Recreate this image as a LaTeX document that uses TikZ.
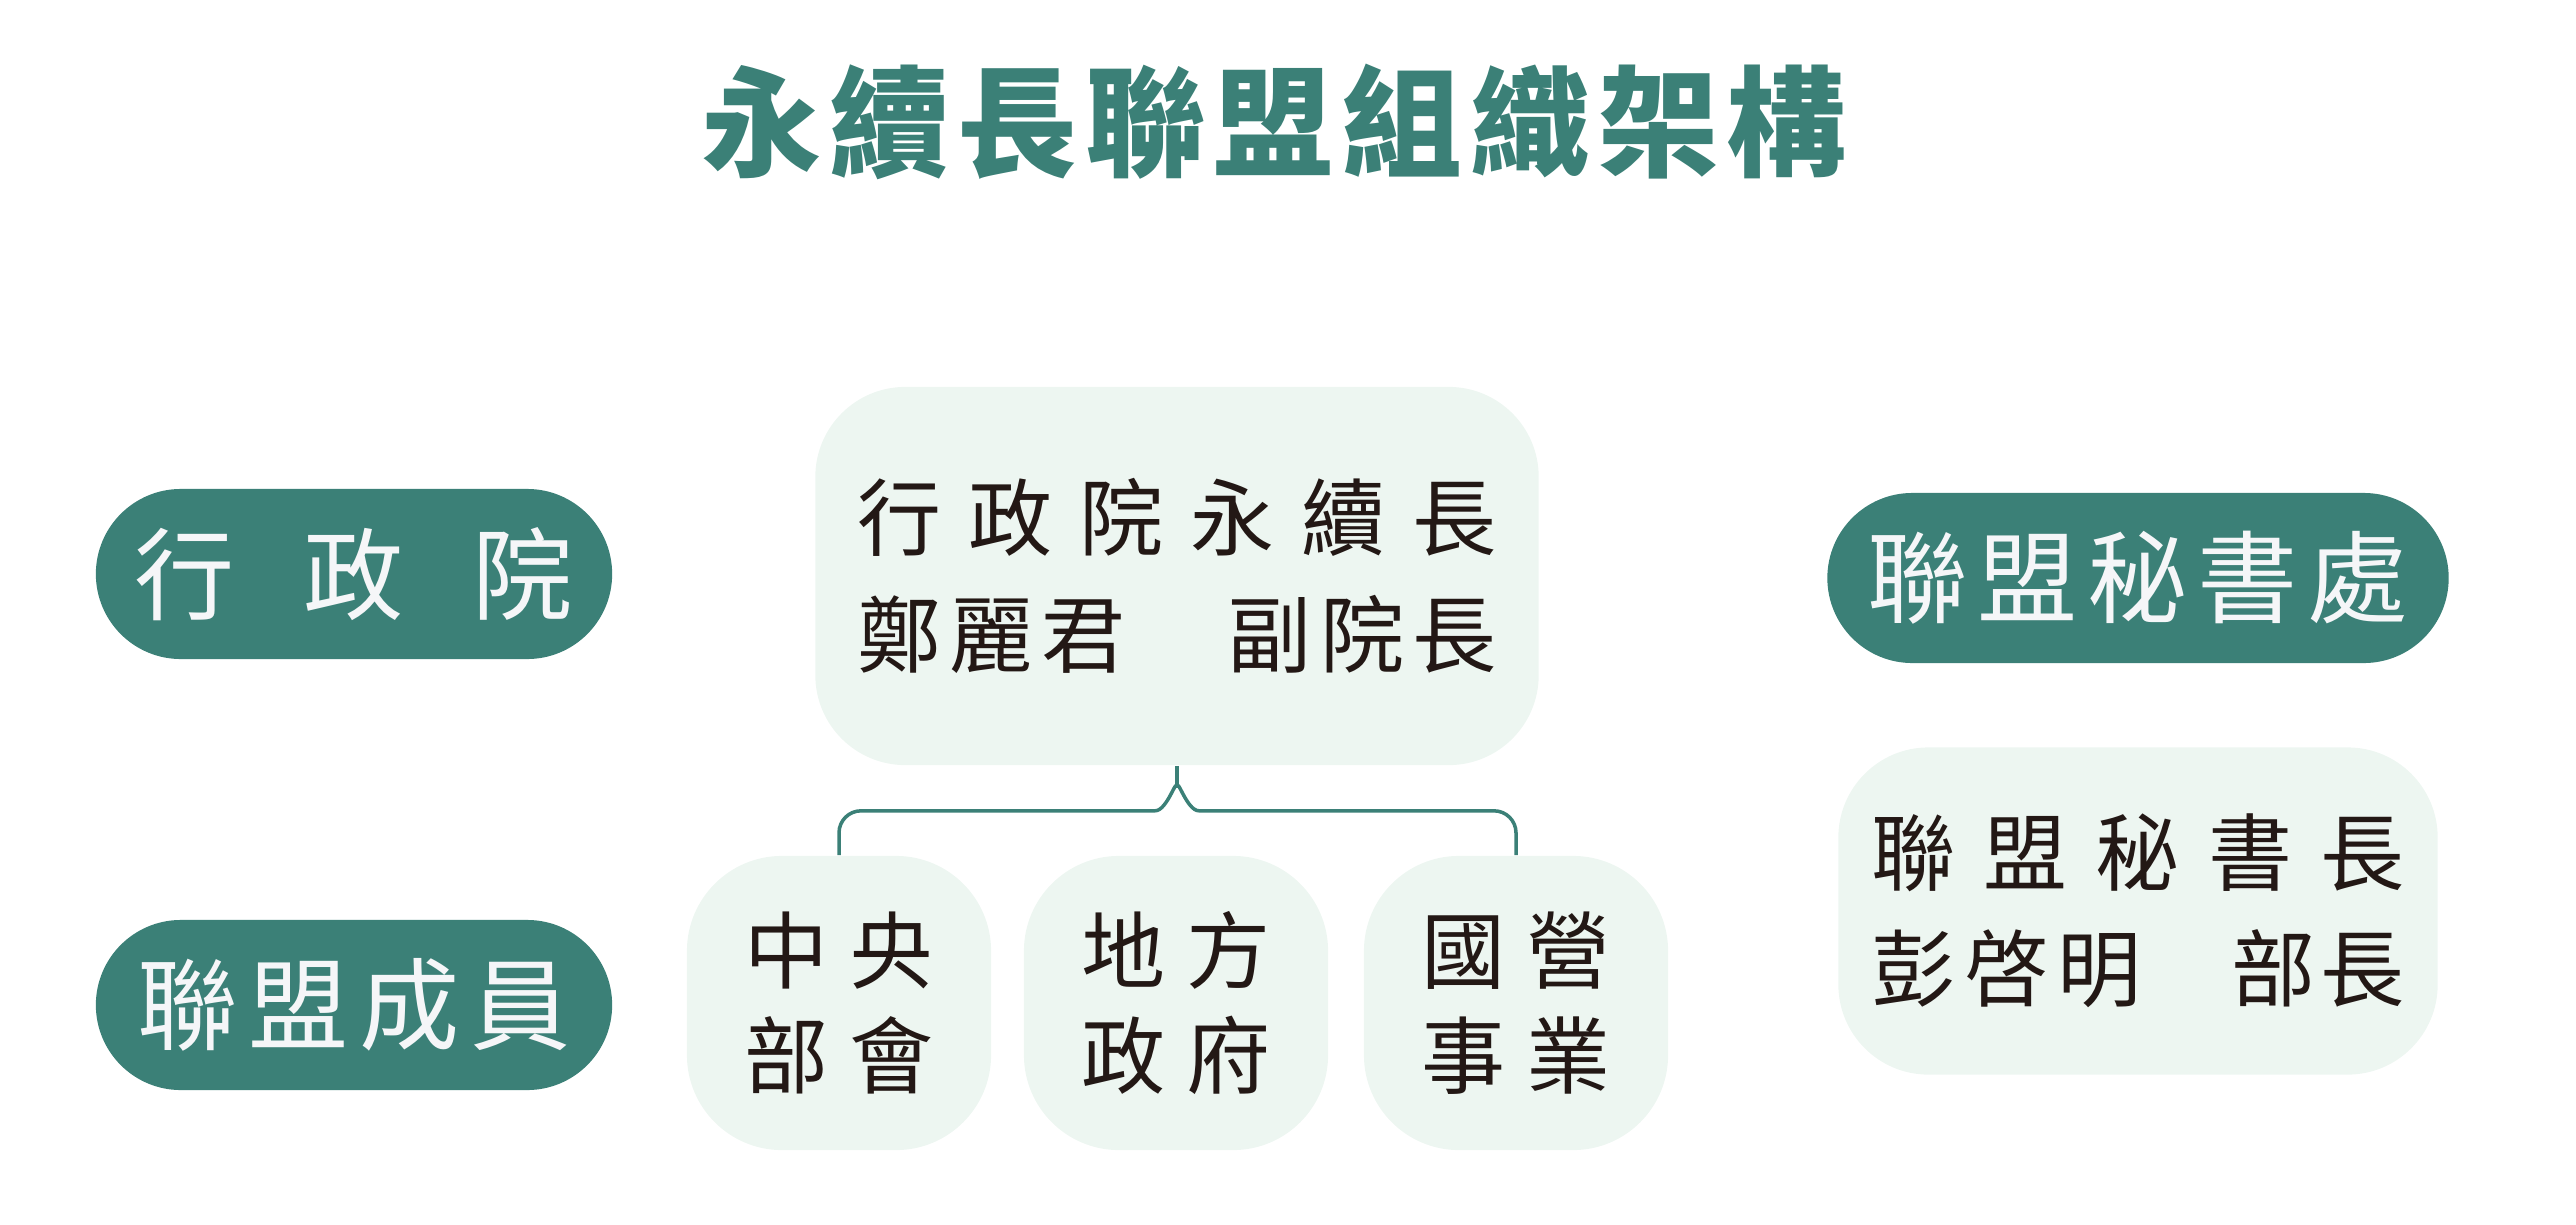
\documentclass[tikz,border=0pt]{standalone}
\usepackage{fontspec}
\newfontfamily\cjk{Noto Sans CJK TC}
\definecolor{unionteal}{HTML}{3B8077}
\definecolor{unionmint}{HTML}{EDF6F1}
\definecolor{inkblack}{HTML}{231815}
\definecolor{paper}{HTML}{F5F6F8}

\begin{document}
\begin{tikzpicture}
[
	x=0.01cm, y=-0.01cm,
	pill/.style={rectangle,rounded corners=0.85cm,fill=unionteal,text=paper,minimum height=1.7cm,inner sep=0,font=\cjk\fontsize{28.5pt}{34pt}\selectfont},
	card/.style={rectangle,rounded corners=0.9cm,fill=unionmint,text=inkblack,inner sep=0,align=center,font=\cjk\fontsize{23.9pt}{33.1pt}\selectfont},
	unitbox/.style={card,rounded corners=0.95cm,minimum width=3.04cm,minimum height=2.94cm,font=\cjk\fontsize{23.9pt}{29.9pt}\selectfont},
	link/.style={draw=unionteal,line width=1pt}
]

\useasboundingbox (0,0) rectangle (2576,1224);

\node[text=unionteal,font=\cjk\bfseries\fontsize{34.1pt}{40pt}\selectfont] (title) at (1274,122) {\makebox[11.44cm][s]{永\hfill 續\hfill 長\hfill 聯\hfill 盟\hfill 組\hfill 織\hfill 架\hfill 構}};

\node[pill,minimum width=5.16cm] (gov) at (354,574) {\makebox[4.38cm][s]{行\hfill 政\hfill 院}};
\node[pill,minimum width=5.16cm] (member) at (354,1005) {\makebox[4.33cm][s]{聯\hfill 盟\hfill 成\hfill 員}};
\node[pill,minimum width=6.21cm] (office) at (2138,578) {\makebox[5.40cm][s]{聯\hfill 盟\hfill 秘\hfill 書\hfill 處}};

\node[card,minimum width=7.23cm,minimum height=3.78cm] (core) at (1177,576) {\makebox[6.38cm][s]{行\hfill 政\hfill 院\hfill 永\hfill 續\hfill 長}\\\makebox[6.38cm][s]{鄭\kern0.08cm 麗\kern0.08cm 君\hfill 副\kern0.08cm 院\kern0.08cm 長}};
\node[card,minimum width=5.99cm,minimum height=3.27cm] (head) at (2138,911) {\makebox[5.32cm][s]{聯\hfill 盟\hfill 秘\hfill 書\hfill 長}\\\makebox[5.32cm][s]{彭\kern0.09cm 啓\kern0.09cm 明\hfill 部\kern0.05cm 長}};

\node[unitbox] (central) at (839,1003) {\makebox[1.89cm][s]{中\hfill 央}\\\makebox[1.89cm][s]{部\hfill 會}};
\node[unitbox] (local) at (1176,1003) {\makebox[1.89cm][s]{地\hfill 方}\\\makebox[1.89cm][s]{政\hfill 府}};
\node[unitbox] (public) at (1516,1003) {\makebox[1.89cm][s]{國\hfill 營}\\\makebox[1.89cm][s]{事\hfill 業}};

\draw[link] (core.south) -- ++(0,22) coordinate (fork);
\draw[link] (fork) to[out=90,in=0] ++(-22,23) coordinate (forkl);
\draw[link] (fork) to[out=90,in=180] ++(22,23) coordinate (forkr);
\draw[link,rounded corners=0.22cm] (forkl) -| (central.north);
\draw[link,rounded corners=0.22cm] (forkr) -| (public.north);

\end{tikzpicture}
\end{document}
